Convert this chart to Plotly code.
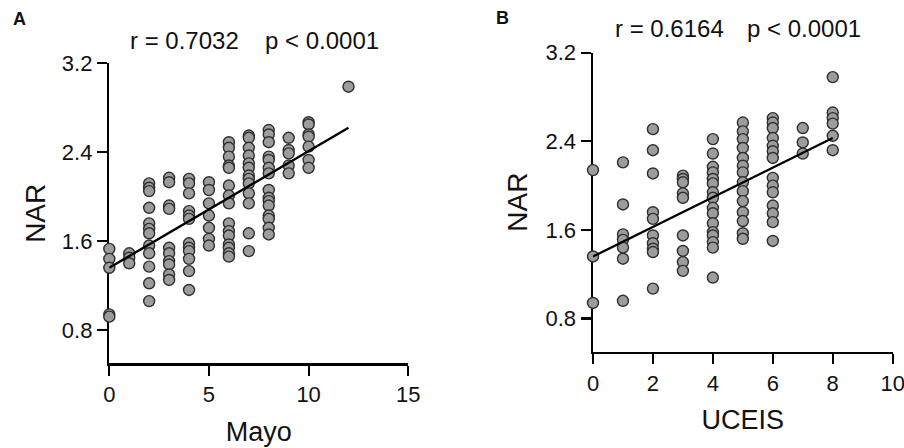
import plotly.graph_objects as go

# ---------------- Panel A data (Mayo vs NAR) ----------------
mayo_x = ([0]*5 + [1]*3 + [2]*12 + [3]*10 + [4]*12 + [5]*7 + [6]*15 +
          [7]*13 + [8]*15 + [9]*5 + [10]*7 + [12])
nar_a = [1.53, 1.44, 1.36, 0.94, 0.92,
         1.49, 1.45, 1.40,
         2.12, 2.08, 2.05, 1.90, 1.76, 1.71, 1.67, 1.56, 1.49, 1.37, 1.22, 1.06,
         2.17, 2.13, 1.92, 1.89, 1.54, 1.49, 1.42, 1.39, 1.30, 1.25,
         2.16, 2.12, 2.03, 1.87, 1.83, 1.80, 1.58, 1.54, 1.51, 1.44, 1.33, 1.16,
         2.13, 2.06, 1.94, 1.83, 1.72, 1.62, 1.56,
         2.49, 2.44, 2.36, 2.28, 2.26, 2.10, 2.01, 1.94, 1.76, 1.69, 1.65, 1.57, 1.54, 1.49, 1.46,
         2.55, 2.53, 2.44, 2.37, 2.30, 2.26, 2.19, 2.16, 2.12, 2.03, 1.94, 1.67, 1.51,
         2.60, 2.56, 2.49, 2.36, 2.33, 2.26, 2.21, 2.06, 1.99, 1.96, 1.92, 1.83, 1.80, 1.72, 1.66,
         2.53, 2.42, 2.39, 2.28, 2.21,
         2.67, 2.65, 2.56, 2.54, 2.45, 2.33, 2.26,
         2.99]
fit_a_x = [0, 12]
fit_a_y = [1.36, 2.62]
stats_a = ["r = 0.7032", "p < 0.0001"]

# ---------------- Panel B data (UCEIS vs NAR) ----------------
uceis_x = ([0]*3 + [1]*7 + [2]*10 + [3]*9 + [4]*16 + [5]*14 + [6]*14 +
           [7]*3 + [8]*6)
nar_b = [2.14, 1.36, 0.94,
         2.21, 1.83, 1.56, 1.51, 1.44, 1.34, 0.96,
         2.51, 2.32, 2.11, 1.76, 1.70, 1.55, 1.48, 1.43, 1.40, 1.07,
         2.09, 2.06, 2.03, 1.93, 1.89, 1.55, 1.41, 1.31, 1.23,
         2.42, 2.29, 2.17, 2.12, 2.06, 2.02, 1.94, 1.89, 1.80, 1.75, 1.66, 1.58, 1.55, 1.49, 1.44, 1.17,
         2.57, 2.49, 2.42, 2.34, 2.25, 2.18, 2.12, 2.03, 1.95, 1.86, 1.76, 1.68, 1.57, 1.52,
         2.61, 2.57, 2.52, 2.43, 2.36, 2.31, 2.25, 2.07, 2.00, 1.94, 1.82, 1.75, 1.67, 1.50,
         2.52, 2.39, 2.29,
         2.98, 2.66, 2.61, 2.56, 2.45, 2.32]
fit_b_x = [0, 8]
fit_b_y = [1.36, 2.43]
stats_b = ["r = 0.6164", "p < 0.0001"]

y_ticks = [0.8, 1.6, 2.4, 3.2]
xa_ticks = [0, 5, 10, 15]
xb_ticks = [0, 2, 4, 6, 8, 10]

FONT = "Liberation Sans, Arial, Helvetica, sans-serif"
W, H = 904, 448

marker = dict(size=11, color="#9c9c9c", line=dict(color="#2e2e2e", width=1.4))

fig = go.Figure()
fig.add_trace(go.Scatter(x=mayo_x, y=nar_a, mode="markers", marker=marker,
                         xaxis="x", yaxis="y", cliponaxis=False, showlegend=False))
fig.add_trace(go.Scatter(x=fit_a_x, y=fit_a_y, mode="lines",
                         line=dict(color="black", width=2.4),
                         xaxis="x", yaxis="y", cliponaxis=False, showlegend=False))
fig.add_trace(go.Scatter(x=uceis_x, y=nar_b, mode="markers", marker=marker,
                         xaxis="x2", yaxis="y2", cliponaxis=False, showlegend=False))
fig.add_trace(go.Scatter(x=fit_b_x, y=fit_b_y, mode="lines",
                         line=dict(color="black", width=2.4),
                         xaxis="x2", yaxis="y2", cliponaxis=False, showlegend=False))

axis_common = dict(showgrid=False, zeroline=False, showline=True, linecolor="black",
                   linewidth=2.5, ticks="outside", ticklen=10, tickwidth=2.2,
                   tickcolor="black", tickfont=dict(family=FONT, size=22, color="#111111"),
                   layer="below traces", automargin=False, ticklabeloverflow="allow")

fig.update_layout(
    width=W, height=H,
    margin=dict(l=0, r=0, t=0, b=0, autoexpand=False),
    paper_bgcolor="white", plot_bgcolor="white",
    font=dict(family=FONT, color="#111111"),
    xaxis=dict(domain=[109.3 / W, 408.3 / W], range=[0, 15.001], tickvals=xa_ticks,
               anchor="y", title=dict(text="Mayo", font=dict(size=27), standoff=16),
               **axis_common),
    yaxis=dict(domain=[(H - 363.3) / H, (H - 63.3) / H], range=[0.5, 3.2005],
               tickvals=y_ticks, tickformat=".1f", anchor="x",
               title=dict(text="NAR", font=dict(size=28), standoff=8),
               **axis_common),
    xaxis2=dict(domain=[593 / W, 892.7 / W], range=[0, 10.001], tickvals=xb_ticks,
                anchor="y2", title=dict(text="UCEIS", font=dict(size=27), standoff=16),
                **axis_common),
    yaxis2=dict(domain=[(H - 351.7) / H, (H - 52.7) / H], range=[0.5, 3.2005],
                tickvals=y_ticks, tickformat=".1f", anchor="x2",
                title=dict(text="NAR", font=dict(size=28), standoff=10),
                **axis_common),
)

def ann(text, x, y, size, bold=False):
    fig.add_annotation(text=f"<b>{text}</b>" if bold else text,
                       x=x / W, y=1 - y / H, xref="paper", yref="paper",
                       xanchor="center", yanchor="middle", showarrow=False,
                       font=dict(family=FONT, size=size, color="#111111"))

ann("A", 19, 19, 18, bold=True)
ann("B", 503, 18, 18, bold=True)
ann(stats_a[0], 184, 40, 24)
ann(stats_a[1], 321.5, 40, 24)
ann(stats_b[0], 669.5, 28.5, 24)
ann(stats_b[1], 804, 28.5, 24)

fig.write_html("out.html",
               config={"displayModeBar": False, "staticPlot": True},
               post_script="document.body.style.margin='0';"
                           "document.body.style.overflow='hidden';")
